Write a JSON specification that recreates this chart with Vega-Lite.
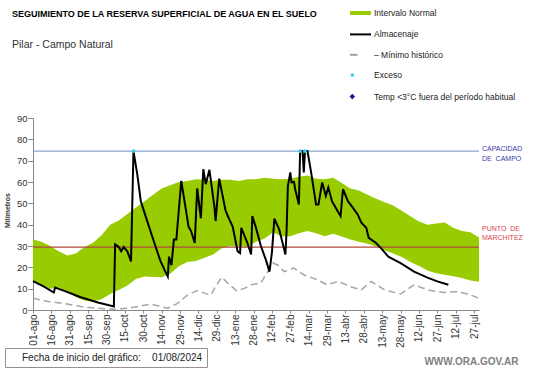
{
  "$schema": "https://vega.github.io/schema/vega-lite/v6.json",
  "autosize": "none",
  "width": 446,
  "height": 192,
  "padding": {"left": 33, "top": 118, "right": 62, "bottom": 58},
  "background": "white",
  "config": {"font": "Liberation Sans", "view": {"stroke": null}},
  "title": {
    "text": "SEGUIMIENTO DE LA RESERVA SUPERFICIAL DE AGUA EN EL SUELO",
    "subtitle": "Pilar - Campo Natural",
    "anchor": "start",
    "frame": "group",
    "dx": -21,
    "offset": -49,
    "font": "Liberation Sans",
    "fontSize": 9,
    "fontWeight": "bold",
    "color": "#000000",
    "subtitleFont": "Liberation Sans",
    "subtitleFontSize": 10.5,
    "subtitleColor": "#333333",
    "subtitlePadding": 21.5
  },
  "datasets": {
    "banda": [
      {"fecha": "2024-08-01", "inf": 13.5, "sup": 33},
      {"fecha": "2024-08-08", "inf": 12, "sup": 32},
      {"fecha": "2024-08-15", "inf": 10, "sup": 30},
      {"fecha": "2024-08-22", "inf": 10.5, "sup": 27.5},
      {"fecha": "2024-08-29", "inf": 8.5, "sup": 25.5},
      {"fecha": "2024-09-05", "inf": 6, "sup": 26.5},
      {"fecha": "2024-09-12", "inf": 4.5, "sup": 29.5},
      {"fecha": "2024-09-19", "inf": 4, "sup": 31.5},
      {"fecha": "2024-09-26", "inf": 5, "sup": 35},
      {"fecha": "2024-10-03", "inf": 7.5, "sup": 40},
      {"fecha": "2024-10-10", "inf": 9.4, "sup": 42},
      {"fecha": "2024-10-17", "inf": 11.5, "sup": 45},
      {"fecha": "2024-10-24", "inf": 14.5, "sup": 48},
      {"fecha": "2024-10-31", "inf": 15.7, "sup": 51},
      {"fecha": "2024-11-07", "inf": 15.5, "sup": 54},
      {"fecha": "2024-11-14", "inf": 15.3, "sup": 57},
      {"fecha": "2024-11-21", "inf": 17, "sup": 58.5},
      {"fecha": "2024-11-28", "inf": 20.5, "sup": 60},
      {"fecha": "2024-12-05", "inf": 22.5, "sup": 60.5},
      {"fecha": "2024-12-12", "inf": 23, "sup": 61.3},
      {"fecha": "2024-12-19", "inf": 24.5, "sup": 61},
      {"fecha": "2024-12-26", "inf": 26, "sup": 60.5},
      {"fecha": "2025-01-02", "inf": 29, "sup": 61},
      {"fecha": "2025-01-09", "inf": 30, "sup": 61},
      {"fecha": "2025-01-16", "inf": 30, "sup": 60.5},
      {"fecha": "2025-01-23", "inf": 29.5, "sup": 61.3},
      {"fecha": "2025-01-30", "inf": 32, "sup": 61.3},
      {"fecha": "2025-02-06", "inf": 33.5, "sup": 62},
      {"fecha": "2025-02-13", "inf": 36.5, "sup": 61.5},
      {"fecha": "2025-02-20", "inf": 34.5, "sup": 61.3},
      {"fecha": "2025-02-27", "inf": 34.6, "sup": 61.5},
      {"fecha": "2025-03-06", "inf": 36, "sup": 62.5},
      {"fecha": "2025-03-13", "inf": 37, "sup": 63},
      {"fecha": "2025-03-20", "inf": 36, "sup": 61.5},
      {"fecha": "2025-03-27", "inf": 34.6, "sup": 61.3},
      {"fecha": "2025-04-03", "inf": 35.8, "sup": 62},
      {"fecha": "2025-04-10", "inf": 34.5, "sup": 59.5},
      {"fecha": "2025-04-17", "inf": 33, "sup": 57},
      {"fecha": "2025-04-24", "inf": 32, "sup": 56},
      {"fecha": "2025-05-01", "inf": 31, "sup": 54},
      {"fecha": "2025-05-08", "inf": 29.8, "sup": 52.2},
      {"fecha": "2025-05-15", "inf": 28, "sup": 50.5},
      {"fecha": "2025-05-22", "inf": 26.5, "sup": 49},
      {"fecha": "2025-05-29", "inf": 24.8, "sup": 46.5},
      {"fecha": "2025-06-05", "inf": 22.5, "sup": 44},
      {"fecha": "2025-06-12", "inf": 20.6, "sup": 41.5},
      {"fecha": "2025-06-19", "inf": 18.5, "sup": 40},
      {"fecha": "2025-06-26", "inf": 17.2, "sup": 40.5},
      {"fecha": "2025-07-03", "inf": 16.5, "sup": 41},
      {"fecha": "2025-07-10", "inf": 15.8, "sup": 38.5},
      {"fecha": "2025-07-17", "inf": 15, "sup": 37},
      {"fecha": "2025-07-24", "inf": 13.8, "sup": 36.5},
      {"fecha": "2025-07-31", "inf": 13.3, "sup": 34}
    ],
    "almacenaje": [
      {"fecha": "2024-08-01", "mm": 13.5},
      {"fecha": "2024-08-10", "mm": 11},
      {"fecha": "2024-08-18", "mm": 8.2},
      {"fecha": "2024-08-19", "mm": 10.5},
      {"fecha": "2024-08-26", "mm": 9.1},
      {"fecha": "2024-09-09", "mm": 6},
      {"fecha": "2024-09-23", "mm": 3.5},
      {"fecha": "2024-10-06", "mm": 1.6},
      {"fecha": "2024-10-07", "mm": 30.7},
      {"fecha": "2024-10-10", "mm": 29.5},
      {"fecha": "2024-10-12", "mm": 27.5},
      {"fecha": "2024-10-14", "mm": 29.5},
      {"fecha": "2024-10-17", "mm": 27.5},
      {"fecha": "2024-10-20", "mm": 22.8},
      {"fecha": "2024-10-22", "mm": 74.5},
      {"fecha": "2024-10-25", "mm": 64},
      {"fecha": "2024-10-28", "mm": 51},
      {"fecha": "2024-11-02", "mm": 42},
      {"fecha": "2024-11-08", "mm": 31.5},
      {"fecha": "2024-11-13", "mm": 23},
      {"fecha": "2024-11-17", "mm": 18},
      {"fecha": "2024-11-19", "mm": 15.7},
      {"fecha": "2024-11-20", "mm": 25},
      {"fecha": "2024-11-22", "mm": 21},
      {"fecha": "2024-11-24", "mm": 33},
      {"fecha": "2024-11-26", "mm": 33},
      {"fecha": "2024-11-30", "mm": 60.5},
      {"fecha": "2024-12-06", "mm": 39},
      {"fecha": "2024-12-08", "mm": 37},
      {"fecha": "2024-12-11", "mm": 31.4},
      {"fecha": "2024-12-13", "mm": 57},
      {"fecha": "2024-12-16", "mm": 43},
      {"fecha": "2024-12-18", "mm": 66},
      {"fecha": "2024-12-20", "mm": 59},
      {"fecha": "2024-12-23", "mm": 65.7},
      {"fecha": "2024-12-27", "mm": 48.7},
      {"fecha": "2024-12-28", "mm": 41.7},
      {"fecha": "2024-12-31", "mm": 61.6},
      {"fecha": "2025-01-05", "mm": 47},
      {"fecha": "2025-01-07", "mm": 44},
      {"fecha": "2025-01-11", "mm": 39},
      {"fecha": "2025-01-15", "mm": 27.5},
      {"fecha": "2025-01-17", "mm": 26.7},
      {"fecha": "2025-01-18", "mm": 38.5},
      {"fecha": "2025-01-23", "mm": 31.4},
      {"fecha": "2025-01-26", "mm": 26},
      {"fecha": "2025-01-27", "mm": 44},
      {"fecha": "2025-01-30", "mm": 38.5},
      {"fecha": "2025-02-03", "mm": 30},
      {"fecha": "2025-02-07", "mm": 23.6},
      {"fecha": "2025-02-10", "mm": 18},
      {"fecha": "2025-02-12", "mm": 27},
      {"fecha": "2025-02-14", "mm": 42.8},
      {"fecha": "2025-02-18", "mm": 37.7},
      {"fecha": "2025-02-22", "mm": 28.3},
      {"fecha": "2025-02-23", "mm": 26},
      {"fecha": "2025-02-24", "mm": 37.7},
      {"fecha": "2025-02-25", "mm": 58},
      {"fecha": "2025-02-27", "mm": 64.5},
      {"fecha": "2025-02-28", "mm": 59.8},
      {"fecha": "2025-03-02", "mm": 60},
      {"fecha": "2025-03-03", "mm": 56.6},
      {"fecha": "2025-03-06", "mm": 49.5},
      {"fecha": "2025-03-07", "mm": 74.5},
      {"fecha": "2025-03-09", "mm": 74.5},
      {"fecha": "2025-03-10", "mm": 64.5},
      {"fecha": "2025-03-11", "mm": 74.5},
      {"fecha": "2025-03-13", "mm": 74.5},
      {"fecha": "2025-03-16", "mm": 64.5},
      {"fecha": "2025-03-20", "mm": 49.5},
      {"fecha": "2025-03-22", "mm": 49.5},
      {"fecha": "2025-03-25", "mm": 59.8},
      {"fecha": "2025-03-28", "mm": 53.5},
      {"fecha": "2025-03-30", "mm": 57.4},
      {"fecha": "2025-04-02", "mm": 51},
      {"fecha": "2025-04-06", "mm": 47},
      {"fecha": "2025-04-09", "mm": 44},
      {"fecha": "2025-04-11", "mm": 56.6},
      {"fecha": "2025-04-15", "mm": 51},
      {"fecha": "2025-04-17", "mm": 49.5},
      {"fecha": "2025-04-19", "mm": 48},
      {"fecha": "2025-04-23", "mm": 44.8},
      {"fecha": "2025-04-26", "mm": 40.9},
      {"fecha": "2025-04-30", "mm": 38.5},
      {"fecha": "2025-05-02", "mm": 33.8},
      {"fecha": "2025-05-08", "mm": 31.4},
      {"fecha": "2025-05-12", "mm": 29},
      {"fecha": "2025-05-18", "mm": 25},
      {"fecha": "2025-05-28", "mm": 22},
      {"fecha": "2025-06-08", "mm": 18},
      {"fecha": "2025-06-19", "mm": 15.2},
      {"fecha": "2025-06-27", "mm": 13.4},
      {"fecha": "2025-07-06", "mm": 11.8}
    ],
    "minimo": [
      {"fecha": "2024-08-01", "mm": 5.5},
      {"fecha": "2024-08-13", "mm": 4},
      {"fecha": "2024-08-26", "mm": 3.1},
      {"fecha": "2024-09-09", "mm": 1.6},
      {"fecha": "2024-09-23", "mm": 0.8},
      {"fecha": "2024-10-06", "mm": 0.3},
      {"fecha": "2024-10-17", "mm": 0.8},
      {"fecha": "2024-10-28", "mm": 1.9},
      {"fecha": "2024-11-05", "mm": 2.8},
      {"fecha": "2024-11-13", "mm": 1.6},
      {"fecha": "2024-11-19", "mm": 0.8},
      {"fecha": "2024-11-27", "mm": 3.1},
      {"fecha": "2024-12-05", "mm": 7},
      {"fecha": "2024-12-13", "mm": 9.1},
      {"fecha": "2024-12-19", "mm": 7.9},
      {"fecha": "2024-12-24", "mm": 7},
      {"fecha": "2024-12-28", "mm": 11},
      {"fecha": "2025-01-02", "mm": 15.4},
      {"fecha": "2025-01-07", "mm": 12.6},
      {"fecha": "2025-01-14", "mm": 9.1},
      {"fecha": "2025-01-20", "mm": 10},
      {"fecha": "2025-01-26", "mm": 11.8},
      {"fecha": "2025-02-03", "mm": 12.6},
      {"fecha": "2025-02-07", "mm": 16.5},
      {"fecha": "2025-02-13", "mm": 22},
      {"fecha": "2025-02-17", "mm": 21},
      {"fecha": "2025-02-22", "mm": 18},
      {"fecha": "2025-03-02", "mm": 19.7},
      {"fecha": "2025-03-10", "mm": 16.5},
      {"fecha": "2025-03-21", "mm": 14.2},
      {"fecha": "2025-03-29", "mm": 11.8},
      {"fecha": "2025-04-07", "mm": 13.4},
      {"fecha": "2025-04-17", "mm": 11},
      {"fecha": "2025-04-26", "mm": 9.4},
      {"fecha": "2025-05-04", "mm": 13.4},
      {"fecha": "2025-05-15", "mm": 9.4},
      {"fecha": "2025-05-28", "mm": 7.5},
      {"fecha": "2025-06-08", "mm": 11.8},
      {"fecha": "2025-06-19", "mm": 9.4},
      {"fecha": "2025-07-02", "mm": 8.2},
      {"fecha": "2025-07-13", "mm": 8.6},
      {"fecha": "2025-07-22", "mm": 7.5},
      {"fecha": "2025-07-31", "mm": 5.5}
    ],
    "exceso": [
      {"fecha": "2024-10-22", "mm": 74.5},
      {"fecha": "2025-03-07", "mm": 74.5},
      {"fecha": "2025-03-11", "mm": 74.5}
    ],
    "umbrales": [
      {"tipo": "capacidad", "fecha": "2025-07-31", "mm": 74.5},
      {"tipo": "marchitez", "fecha": "2025-07-31", "mm": 29.5}
    ]
  },
  "layer": [
    {
      "data": {"name": "banda"},
      "mark": {"type": "area", "color": "#99cc00", "opacity": 1},
      "encoding": {
        "x": {
          "field": "fecha",
          "type": "temporal",
          "scale": {"type": "utc", "domain": [1722470400000, 1753920000000]},
          "axis": {
            "values": [1722470400000, 1723766400000, 1725062400000, 1726358400000, 1727654400000, 1728950400000, 1730246400000, 1731542400000, 1732838400000, 1734134400000, 1735430400000, 1736726400000, 1738022400000, 1739318400000, 1740614400000, 1741910400000, 1743206400000, 1744502400000, 1745798400000, 1747094400000, 1748390400000, 1749686400000, 1750982400000, 1752278400000, 1753574400000],
            "tickCount": 40,
            "labelExpr": "utcFormat(datum.value, '%d') + '-' + ['ene','feb','mar','abr','may','jun','jul','ago','sep','oct','nov','dic'][utcmonth(datum.value)]",
            "labelAngle": 270,
            "labelAlign": "right",
            "labelBaseline": "middle",
            "labelFont": "Liberation Sans",
            "labelFontSize": 10,
            "labelColor": "#333333",
            "labelPadding": 1,
            "labelOverlap": false,
            "labelSeparation": -40,
            "labelFlush": false,
            "tickSize": 3,
            "tickColor": "#888888",
            "domainColor": "#888888",
            "grid": false,
            "title": "WWW.ORA.GOV.AR",
            "titleX": 485,
            "titleY": 51,
            "titleAlign": "right",
            "titleBaseline": "middle",
            "titleAngle": 0,
            "titleFont": "Liberation Sans",
            "titleFontSize": 10,
            "titleFontWeight": "bold",
            "titleColor": "#7f7f7f"
          }
        },
        "y": {
          "field": "sup",
          "type": "quantitative",
          "scale": {"domain": [0, 90], "nice": false},
          "axis": {
            "values": [0, 10, 20, 30, 40, 50, 60, 70, 80, 90],
            "tickCount": 20,
            "labelOverlap": false,
            "labelFont": "Liberation Sans",
            "labelFontSize": 9.5,
            "labelColor": "#333333",
            "labelPadding": 1,
            "tickSize": 5,
            "tickColor": "#888888",
            "domainColor": "#888888",
            "grid": false,
            "title": "Milímetros",
            "titleX": -25.5,
            "titleY": 92,
            "titleAngle": 270,
            "titleAlign": "center",
            "titleBaseline": "middle",
            "titleFont": "Liberation Sans",
            "titleFontSize": 7,
            "titleFontWeight": "bold",
            "titleColor": "#333333"
          }
        },
        "y2": {"field": "inf"}
      }
    },
    {
      "data": {"name": "umbrales"},
      "transform": [{"filter": "datum.tipo == 'marchitez'"}],
      "mark": {"type": "rule", "color": "#b04a3a", "strokeWidth": 1.2},
      "encoding": {"y": {"field": "mm", "type": "quantitative"}}
    },
    {
      "data": {"name": "umbrales"},
      "transform": [{"filter": "datum.tipo == 'capacidad'"}],
      "mark": {"type": "rule", "color": "#8aa4d2", "strokeWidth": 1.2},
      "encoding": {"y": {"field": "mm", "type": "quantitative"}}
    },
    {
      "data": {"name": "minimo"},
      "mark": {"type": "line", "color": "#a6a6a6", "strokeWidth": 1.5},
      "encoding": {
        "x": {"field": "fecha", "type": "temporal"},
        "y": {"field": "mm", "type": "quantitative"},
        "strokeDash": {
          "datum": "Fecha de inicio del gráfico:\u00a0\u00a0\u00a0\u00a001/08/2024\u00a0\u00a0\u00a0\u00a0\u00a0",
          "scale": {"range": [[7, 4]]},
          "legend": {
            "orient": "none",
            "legendX": -28,
            "legendY": 230,
            "title": null,
            "padding": 4.5,
            "strokeColor": "#9a8f8f",
            "fillColor": "#ffffff",
            "symbolOpacity": 0,
            "symbolSize": 1,
            "symbolStrokeWidth": 0,
            "labelOffset": 2.5,
            "labelFont": "Liberation Sans",
            "labelFontSize": 10,
            "labelColor": "#222222",
            "labelLimit": 400
          }
        }
      }
    },
    {
      "data": {"name": "almacenaje"},
      "mark": {"type": "line", "color": "#000000", "strokeWidth": 2},
      "encoding": {
        "x": {"field": "fecha", "type": "temporal"},
        "y": {"field": "mm", "type": "quantitative"}
      }
    },
    {
      "data": {"name": "exceso"},
      "mark": {"type": "point", "filled": true, "size": 14, "opacity": 1, "color": "#33ccee"},
      "encoding": {
        "x": {"field": "fecha", "type": "temporal"},
        "y": {"field": "mm", "type": "quantitative"}
      }
    },
    {
      "data": {"values": []},
      "mark": {"type": "point", "filled": false, "strokeWidth": 2},
      "encoding": {
        "color": {
          "datum": "Exceso",
          "scale": {
            "domain": ["Intervalo Normal", "Almacenaje", "– Mínimo histórico", "Exceso", "Temp <3°C fuera del período habitual"],
            "range": ["#99cc00", "#000000", "#a0a0a0", "#33ccee", "#1a1a99"]
          },
          "legend": {
            "orient": "none",
            "legendX": 316,
            "legendY": -116.5,
            "title": null,
            "padding": 0,
            "symbolSize": 441,
            "symbolStrokeWidth": 2,
            "symbolOpacity": 1,
            "symbolFillColor": "transparent",
            "labelOffset": 2,
            "rowPadding": 4.4,
            "labelFont": "Liberation Sans",
            "labelFontSize": 8.5,
            "labelColor": "#222222",
            "labelLimit": 300
          }
        },
        "shape": {
          "datum": "Exceso",
          "scale": {
            "domain": ["Intervalo Normal", "Almacenaje", "– Mínimo histórico", "Exceso", "Temp <3°C fuera del período habitual"],
            "range": ["M-0.9,-0.095H0.9V0.095H-0.9Z", "M-1,0H1", "M-1,0H-0.28", "M-0.84,-0.03L-0.81,-0.06L-0.75,-0.06L-0.72,-0.03L-0.72,0.03L-0.75,0.06L-0.81,0.06L-0.84,0.03Z", "M-0.78,-0.13L-0.65,0L-0.78,0.13L-0.91,0Z"]
          },
          "legend": {
            "orient": "none",
            "legendX": 316,
            "legendY": -116.5,
            "title": null,
            "padding": 0,
            "symbolSize": 441,
            "symbolStrokeWidth": 2,
            "symbolOpacity": 1,
            "symbolFillColor": "transparent",
            "labelOffset": 2,
            "rowPadding": 4.4,
            "labelFont": "Liberation Sans",
            "labelFontSize": 8.5,
            "labelColor": "#222222",
            "labelLimit": 300
          }
        }
      }
    },
    {
      "data": {"name": "umbrales"},
      "transform": [{"filter": "datum.tipo == 'capacidad'"}],
      "mark": {"type": "text", "text": ["CAPACIDAD", "DE\u00a0\u00a0CAMPO"], "align": "left", "baseline": "middle", "dx": 3, "dy": -2, "font": "Liberation Sans", "fontSize": 7, "lineHeight": 9.5, "color": "#3a3aad"},
      "encoding": {
        "x": {"field": "fecha", "type": "temporal"},
        "y": {"field": "mm", "type": "quantitative"}
      }
    },
    {
      "data": {"name": "umbrales"},
      "transform": [{"filter": "datum.tipo == 'marchitez'"}],
      "mark": {"type": "text", "text": ["PUNTO\u00a0\u00a0DE", "MARCHITEZ"], "align": "left", "baseline": "middle", "dx": 3, "dy": -18.5, "font": "Liberation Sans", "fontSize": 7, "lineHeight": 9.5, "color": "#e0424a"},
      "encoding": {
        "x": {"field": "fecha", "type": "temporal"},
        "y": {"field": "mm", "type": "quantitative"}
      }
    }
  ]
}
